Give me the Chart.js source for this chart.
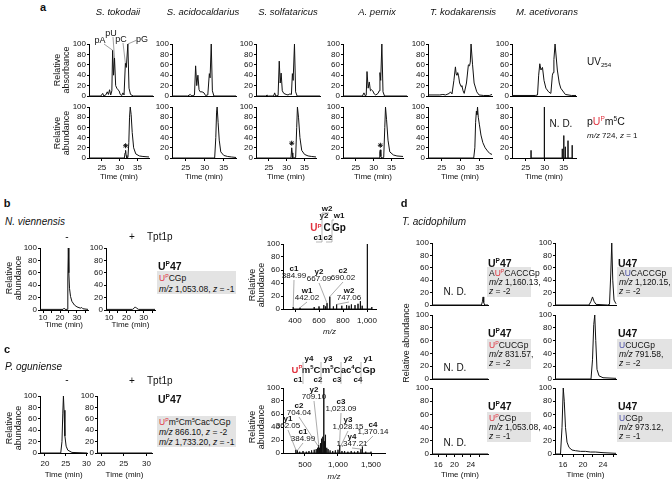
<!DOCTYPE html>
<html><head><meta charset="utf-8">
<script src="https://cdn.jsdelivr.net/npm/chart.js@4.4.1/dist/chart.umd.min.js"></script>
<style>
body{margin:0;background:#fff;}
#fig{position:relative;width:672px;height:482px;font-family:"Liberation Sans",Arial,Helvetica,sans-serif;color:#111;}
.t{position:absolute;white-space:nowrap;line-height:1;}
.c{transform:translate(-50%,-50%);}
.l{transform:translateY(-50%);}
.ry{transform:translate(-50%,-50%) rotate(-90deg);text-align:center;line-height:1.05;}
.red{color:#e0323e}
.blu{color:#4a4ea6}
.box{position:absolute;background:#e3e3e3;}
sup{font-size:62%;vertical-align:top;position:relative;top:-0.05em;line-height:1}
sub{font-size:62%;vertical-align:bottom;position:relative;top:0.15em;line-height:1}
canvas{position:absolute}
svg{position:absolute;left:0;top:0;pointer-events:none}
</style></head><body><div id="fig"></div>
<script>
// ================= DATA =================
const yTicks = [0,20,40,60,80,100];
// ---- panel a: species ----
const aTitles = ['S. tokodaii','S. acidocaldarius','S. solfataricus','A. pernix','T. kodakarensis','M. acetivorans'];
const aXTicks = [25,30,35];
// UV254 traces (time min, relative absorbance)
const stoUV_t = [21.4,24.5,25,25.3,25.8,26.2,26.5,26.8,27.1,27.4,27.6,27.85,28.1,28.4,28.7,29.0,29.3,29.6,30.0,30.3,30.6,30.95,31.2,31.6,31.9,32.3,33,38.2];
const stoUV_y = [0,0,5,0,2,8,3,12,2,10,88,40,73,20,15,12,10,3,1,6,2,63,55,100,15,3,0,0];
const saiUV_t = [21.4,25.5,26.2,26.6,27.3,27.6,27.9,28.2,28.5,28.8,29.3,29.8,30.2,30.8,31.2,31.4,31.7,32.0,32.4,38.2];
const saiUV_y = [0,0,3,0,2,58,20,40,12,8,8,6,1,2,43,35,100,10,0,0];
const ssoUV_t = [21.4,24.0,24.3,24.6,26.0,26.3,26.6,27.2,27.5,27.75,28.0,28.3,28.7,29.3,29.8,30.3,30.7,30.95,31.15,31.5,31.8,32.2,38.2];
const ssoUV_y = [0,0,2,0,0,6,0,1,67,25,44,10,5,3,2,4,3,43,30,100,8,0,0];
const apeUV_t = [21.4,26.5,26.9,27.3,27.5,27.7,28.0,28.3,28.6,28.9,29.2,29.6,30.0,30.6,30.9,31.1,31.3,31.6,31.9,32.3,38.2];
const apeUV_y = [0,0,6,0,2,47,15,27,10,12,10,4,2,5,10,45,30,100,8,0,0];
const tkoUV_t = [21.4,24.5,25.3,26,27.0,27.3,27.7,28.2,28.6,28.8,29.0,29.2,29.4,29.7,30.1,30.3,30.6,30.9,31.5,32.0,32.3,32.5,32.7,33.1,33.5,34.2,34.8,36,37.5,38.2];
const tkoUV_y = [2,2,3,2,5,8,4,30,56,42,40,45,40,25,18,20,10,5,25,60,58,65,100,60,25,8,2,1,1,3];
const macUV_t = [21.4,27.5,28.1,28.4,28.7,29.0,29.4,29.8,30.3,31.0,31.6,32.0,32.2,32.4,32.7,33.0,33.3,33.8,34.2,35.4,37,38.2];
const macUV_y = [1,1,2,40,62,50,55,30,15,8,5,40,45,70,100,75,50,25,15,3,1,1];
// pUpm5C extracted ion traces (m/z 724)
const stoMS_t = [21.4,31.3,31.5,31.65,31.8,32.0,32.3,32.55,32.75,32.95,33.2,33.5,33.9,34.5,35.5,36.5,38.2];
const stoMS_y = [0,0,10,15,5,0,1,30,80,100,85,50,20,8,4,3,2];
const saiMS_t = [21.4,32.6,32.9,33.1,33.25,33.5,33.8,34.2,35,36,37,38.2];
const saiMS_y = [0,0,40,90,100,70,35,12,5,3,2,1];
const ssoMS_t = [21.4,31.2,31.4,31.55,31.7,32.0,32.5,32.8,33.0,33.3,33.7,34.2,35,36,37,38.2];
const ssoMS_y = [0,0,20,10,0,0,1,60,100,80,40,15,7,4,3,2];
const apeMS_t = [21.4,31.5,31.7,31.85,32.0,32.3,32.8,33.1,33.3,33.6,34.0,34.5,35.5,36.5,38.2];
const apeMS_y = [0,0,12,16,3,0,1,60,100,75,35,12,6,4,3];
const tkoMS_t = [21.4,33.4,33.7,33.9,34.1,34.25,34.4,34.6,34.9,35.3,35.8,36.4,37,37.6,38.2];
const tkoMS_y = [0,0,20,70,92,85,100,80,65,45,30,20,14,9,7];
const macMS_t = [26.4,29.9,34.6,35.0,35.4,36.1,37.2];
const macMS_y = [15,100,18,44,22,34,25];
// asterisk (side peak) positions
const starT = [31.65, null, 31.4, 31.85, null, null];
const starY = [15, null, 20, 16, null, null];

// ---- panel b: N. viennensis ----
const bXTicks = [10,15,20,25,30,35];
const bMinusT = [8.2,21.8,22.4,23,24.3,24.6,24.9,25.2,25.6,26.2,27,28.5,30,32,32.8,33.5,36.5];
const bMinusY = [1,1,3,1,1,50,100,60,35,22,14,8,5,3,4,2,1];
const bPlusT = [8.2,23.5,24.5,25.1,25.8,27,36.5];
const bPlusY = [1,1,3,5,3,1,1];
const bSpecMz = [385,442,560,600,640,655,667,690,720,747,790,830,850,870,900,925,945,960,1003,1040];
const bSpecH  = [3,2,3,4,6,4,9,19,4,7,5,6,5,7,6,8,12,5,100,3];
const bSpecTicks = [400,600,800,1000];
const bIonName = ['c1','w1','y2','c2','w2'];
const bIonMz = [384.99,442.02,667.09,690.02,747.06];

// ---- panel c: P. oguniense ----
const cXTicks = [20,25,30];
const cMinusT = [18.8,23.8,24.1,24.3,24.45,24.6,24.8,25.1,25.5,26.5,30.2];
const cMinusY = [0,0,20,70,100,75,30,12,5,1,0];
const cPlusT = [19.1,31.2];
const cPlusY = [0,0];
const cSpecMz = [362,385,420,470,520,560,600,640,670,690,704,709,720,735,745,755,770,785,795,805,815,830,850,880,920,960,1000,1023,1028,1060,1100,1150,1200,1250,1300,1347,1370,1420,1500];
const cSpecH  = [5,4,2,3,2,3,4,5,6,8,10,12,8,15,22,18,25,100,18,28,10,8,6,4,3,4,5,12,8,3,3,2,3,2,3,6,10,2,2];
const cSpecTicks = [500,1000,1500];
const cIonName = ['y1','c2','c1','y2','c3','y3','y4','c4'];
const cIonMz = [362.05,704.04,384.99,709.10,1023.09,1028.15,1347.21,1370.14];

// ---- panel d: T. acidophilum ----
const dXTicks = [16,18,20,22,24,26];
const dL1_t = [14.5,26.6,26.85,27.0,27.15,27.4,28.2];
const dL1_y = [0,0,6,13,4,0,0];
const dL2_t = [14.5,28.2];
const dL2_y = [0,0];
const dL3_t = [14.5,28.2];
const dL3_y = [0,0];
const dR1_t = [14.4,21.2,21.6,21.9,22.2,22.6,24.9,25.3,25.55,25.75,25.95,26.2,26.6];
const dR1_y = [0,0,6,13,6,1,0,1,50,100,40,8,2];
const dR2_t = [14.4,21.6,21.9,22.15,22.35,22.55,22.8,23.2,24,26.6];
const dR2_y = [0,0,30,85,100,60,15,5,2,1];
const dR3_t = [14.4,15.5,15.8,16.05,16.25,16.5,16.8,17.2,17.8,18.5,19.5,20.5,21.5,22.5,24,26.6];
const dR3_y = [0,0,40,100,80,40,18,10,6,5,4,4,3,3,2,1];
const dPeakT = [25.75,22.35,16.05];

// ================= DRAWING =================
const FF = "'Liberation Sans', Arial, Helvetica, sans-serif";
const fig = document.getElementById('fig');
const INK = '#111';
const zip = (t,y)=>t.map((v,i)=>({x:v,y:y[i]}));
const sticks = (m,h)=>{const o=[];m.forEach((v,i)=>{o.push({x:v,y:0},{x:v,y:h[i]},{x:v,y:0});});return o;};
const line = d=>({data:d,borderColor:INK,borderWidth:1,pointRadius:0,tension:0,clip:false});
const fmt = v=>Number(v).toLocaleString('en-US');
const allCharts=[];

function mk(o){
  const YW=o.yw??22, TOP=8, RIGHT=o.right??6, XH=Math.max(o.xh??2,6);
  const W=(o.x1-o.x0)+YW+RIGHT, H=(o.y0-o.y100)+TOP+XH;
  const cv=document.createElement('canvas');
  cv.width=W;cv.height=H;cv.style.width=W+'px';cv.style.height=H+'px';
  const left=o.x0-YW, top=o.y100-TOP;
  cv.style.left=left+'px';cv.style.top=top+'px';
  fig.appendChild(cv);
  const ctx=cv.getContext('2d',{willReadFrequently:true});
  const lab=o.xlab||null;
  const ch=new Chart(ctx,{type:'line',data:{datasets:o.ds},options:{
    responsive:false,animation:false,devicePixelRatio:1,events:[],
    layout:{padding:{top:TOP,right:RIGHT,left:0,bottom:0}},
    plugins:{legend:{display:false},tooltip:{enabled:false}},
    scales:{
      x:{type:'linear',min:o.xmin,max:o.xmax,
        afterFit:s=>{s.height=XH;},
        afterBuildTicks:s=>{s.ticks=(o.xt||[]).map(v=>({value:v}));},
        border:{color:'#000',width:1},
        grid:{display:true,drawOnChartArea:false,drawTicks:!!lab,tickLength:3,color:'#000'},
        ticks:{display:!!lab,autoSkip:false,maxRotation:0,padding:o.tp??2,color:INK,font:{size:8,family:FF},
          callback:v=>lab&&lab.includes(v)?fmt(v):''},
        title:{display:!!o.xtitle,text:o.xtitle||'',padding:0,color:INK,font:{size:8,family:FF,style:o.xtitleIt?'italic':'normal'}}
      },
      y:{type:'linear',position:'left',min:0,max:100,
        afterFit:s=>{s.width=YW;},
        afterBuildTicks:s=>{s.ticks=yTicks.map(v=>({value:v}));},
        border:{color:'#000',width:1},
        grid:{display:true,drawOnChartArea:false,drawTicks:true,tickLength:2,color:'#000'},
        ticks:{display:true,autoSkip:false,padding:1,color:INK,font:{size:8,family:FF},callback:v=>String(v)}
      }
    }
  }});
  allCharts.push({ch,ctx,W,H});
  return {ch,left,top};
}
function P(info,x,y){return [info.left+info.ch.scales.x.getPixelForValue(x), info.top+info.ch.scales.y.getPixelForValue(y)];}
// text and boxes are queued and added after every chart has been drawn
const queue=[];
function T(x,y,html,s,cls,extra){queue.push(()=>{const d=document.createElement('div');d.className='t '+(cls||'c');d.style.left=x+'px';d.style.top=y+'px';d.style.fontSize=(s||9)+'px';if(extra)Object.assign(d.style,extra);d.innerHTML=html;fig.appendChild(d);});}
function B(x,y,w,h){queue.push(()=>{const d=document.createElement('div');d.className='box';Object.assign(d.style,{left:x+'px',top:y+'px',width:w+'px',height:h+'px'});fig.appendChild(d);});}
const lines=[];
const leaders=[];
function L(x1,y1,x2,y2,c){lines.push(`<line x1="${x1}" y1="${y1}" x2="${x2}" y2="${y2}" stroke="${c||'#888'}" stroke-width="0.7"/>`);}
const BOLD={fontWeight:'bold'}, IT={fontStyle:'italic'};
const UP='U<sup>P</sup>';

// ===== create all charts first =====
const A_X0=[89,172,256,343,428,512];
const uvT=[stoUV_t,saiUV_t,ssoUV_t,apeUV_t,tkoUV_t,macUV_t], uvY=[stoUV_y,saiUV_y,ssoUV_y,apeUV_y,tkoUV_y,macUV_y];
const msT=[stoMS_t,saiMS_t,ssoMS_t,apeMS_t,tkoMS_t], msY=[stoMS_y,saiMS_y,ssoMS_y,apeMS_y,tkoMS_y];
let aUV0=null;
A_X0.forEach((x0,i)=>{
  const u=mk({x0,x1:x0+64,y100:44,y0:96,yw:19,right:1,xmin:21.4,xmax:38.2,xt:[...aXTicks],ds:[line(zip(uvT[i],uvY[i]))]});
  if(i===0)aUV0=u;
  const ds=[line(i<5?zip(msT[i],msY[i]):sticks(macMS_t,macMS_y))];
  if(starT[i]!=null) ds.push({data:[{x:starT[i],y:starY[i]+9}],showLine:false,pointStyle:'star',pointRadius:2.5,borderColor:INK,borderWidth:1,clip:false});
  mk({x0,x1:x0+64,y100:107,y0:158,yw:19,right:1,xmin:21.4,xmax:38.2,xt:[...aXTicks],xlab:[...aXTicks],tp:2,xh:24,xtitle:'Time (min)',ds});
});
mk({x0:40,x1:88,y100:248,y0:310,xmin:8.2,xmax:36.5,xt:bXTicks,xlab:[10,20,30],tp:0,xh:20,xtitle:'Time (min)',ds:[line(zip(bMinusT,bMinusY))]});
mk({x0:106,x1:155,y100:248,y0:310,xmin:8.2,xmax:36.5,xt:bXTicks,xlab:[10,20,30],tp:0,xh:20,xtitle:'Time (min)',ds:[line(zip(bPlusT,bPlusY))]});
const sb=mk({x0:283,x1:376,y100:244,y0:309,xmin:300,xmax:1075,xt:bSpecTicks,xlab:bSpecTicks,tp:4,xh:28,xtitle:'m/z',xtitleIt:true,ds:[line(sticks(bSpecMz,bSpecH))]});
mk({x0:40,x1:88,y100:396,y0:453,xmin:18.8,xmax:30.2,xt:cXTicks,xlab:cXTicks,tp:3,xh:27,xtitle:'Time (min)',ds:[line(zip(cMinusT,cMinusY))]});
mk({x0:97,x1:152,y100:396,y0:453,xmin:19.1,xmax:31.2,xt:cXTicks,xlab:cXTicks,tp:3,xh:27,xtitle:'Time (min)',ds:[line(zip(cPlusT,cPlusY))]});
const sc=mk({x0:283,x1:385,y100:388,y0:453,xmin:167,xmax:1712,xt:cSpecTicks,xlab:cSpecTicks,tp:4,xh:29,xtitle:'m/z',xtitleIt:true,ds:[line(sticks(cSpecMz,cSpecH))]});
const dRows=[[243,305],[315,379],[388,454]];
const dLT=[dL1_t,dL2_t,dL3_t], dLY=[dL1_y,dL2_y,dL3_y], dRT=[dR1_t,dR2_t,dR3_t], dRY=[dR1_y,dR2_y,dR3_y];
dRows.forEach((r,i)=>{
  const last=i===2;
  const base={y100:r[0],y0:r[1],xt:dXTicks,xlab:last?[16,20,24]:null,tp:3,xh:last?26:2,xtitle:last?'Time (min)':null};
  mk(Object.assign({x0:432,x1:488,xmin:14.5,xmax:28.2,ds:[line(zip(dLT[i],dLY[i]))]},base));
  mk(Object.assign({x0:555,x1:616,xmin:14.4,xmax:26.6,ds:[line(zip(dRT[i],dRY[i])),
    {data:[{x:dPeakT[i],y:110}],showLine:false,pointStyle:'triangle',pointRotation:180,pointRadius:3.2,backgroundColor:INK,borderColor:INK,borderWidth:0,clip:false}]},base));
});
allCharts.forEach(c=>{c.ch.update('none');c.ctx.getImageData(0,0,c.W,c.H);});

// ===== panel a text =====
T(43,7,'a',11,'c',BOLD);
const aTX=[118,203,288,377,463,547];
aTitles.forEach((s,i)=>T(aTX[i],12,s,9.5,'c',IT));
T(62,70,'Relative<br>absorbance',9,'ry');
T(62,133,'Relative<br>abundance',9,'ry');
const nucName=['pA','pU','pC','pG'], nucT=[27.6,28.1,30.95,31.6], nucY=[88,73,63,100];
const nucLX=[100,111,121,142], nucLY=[40,33,39,39], nucSX=[104,113,123,137], nucSY=[44,37,43,40];
nucName.forEach((n,i)=>{T(nucLX[i],nucLY[i],n,9);const p=P(aUV0,nucT[i],nucY[i]);L(nucSX[i],nucSY[i],p[0],p[1],'#777');});
T(587,62,'UV<sub>254</sub>',10,'l');
T(587,121,'p<span class="red">'+UP+'</span>m<sup>5</sup>C',10.5,'l');
T(587,136,'<i>m/z</i> 724, <i>z</i> = 1',8,'l');
T(561,124,'N. D.',10);

// ===== panel b text =====
T(7,203,'b',11,'c',BOLD);
T(5,222,'N. viennensis',10,'l',IT);
T(67,237,'-',10);T(132,237,'+',10);T(147,237,'Tpt1p',10,'l');
T(14,278,'Relative<br>abundance',9,'ry');
T(158,266,UP+'47',10.5,'l',BOLD);
B(157,271,79,23);
T(159,278,'<span class="red">'+UP+'</span>CGp',8.5,'l');
T(159,289,'<i>m/z</i> 1,053.08, <i>z</i> = -1',8.5,'l');
T(257,285,'Relative<br>abundance',9,'ry');
const bLX=[294,307,319,343,349], bLY=[269,291,272,271,291];
bIonName.forEach((n,i)=>{
  T(bLX[i],bLY[i],n,8,'c',BOLD);T(bLX[i],bLY[i]+7,bIonMz[i].toFixed(2),8);
  const k=bSpecMz.reduce((a,v,j)=>Math.abs(v-bIonMz[i])<Math.abs(bSpecMz[a]-bIonMz[i])?j:a,0);
  const p=P(sb,bSpecMz[k],bSpecH[k]);L(bLX[i],bLY[i]+11,p[0],p[1]);
});
T(327,209,'w2',8,'c',BOLD);T(324,216,'y2',8,'c',BOLD);T(339,216,'w1',8,'c',BOLD);
T(316,228,'<span class="red">'+UP+'</span>',10,'c',BOLD);T(327,228,'C',10,'c',BOLD);T(339,228,'Gp',10,'c',BOLD);
T(318,238,'c1',8,'c',BOLD);T(328,238,'c2',8,'c',BOLD);
L(322,213,322,242,'#999');L(322,213,329,213,'#999');L(332,220,332,242,'#999');L(332,220,334,220,'#999');
L(322,242,316,242,'#999');L(332,242,326,242,'#999');

// ===== panel c text =====
T(7,349,'c',11,'c',BOLD);
T(5,367,'P. oguniense',10,'l',IT);
T(67,380,'-',10);T(132,381,'+',10);T(147,381,'Tpt1p',10,'l');
T(14,428,'Relative<br>abundance',9,'ry');
T(158,399,UP+'47',10.5,'l',BOLD);
B(157,416,79,31);
T(159,422,'<span class="red">'+UP+'</span>m<sup>5</sup>Cm<sup>5</sup>Cac<sup>4</sup>CGp',8.5,'l');
T(159,432,'<i>m/z</i> 866.10, <i>z</i> = -2',8.5,'l');
T(159,442,'<i>m/z</i> 1,733.20, <i>z</i> = -1',8.5,'l');
T(257,427,'Relative<br>abundance',9,'ry');
const cLX=[288,299,303,314,341,348,352,373], cLY=[419,406,432,390,402,420,437,425];
cIonName.forEach((n,i)=>{
  T(cLX[i],cLY[i],n,8,'c',BOLD);T(cLX[i],cLY[i]+7,cIonMz[i].toLocaleString('en-US',{minimumFractionDigits:2}),8);
  const k=cSpecMz.reduce((a,v,j)=>Math.abs(v-cIonMz[i])<Math.abs(cSpecMz[a]-cIonMz[i])?j:a,0);
  const p=P(sc,cSpecMz[k],cSpecH[k]);L(cLX[i],cLY[i]+11,p[0],p[1]);
});
const cTopN=['y4','y3','y2','y1'], cTopX=[309,328,348,368];
cTopN.forEach((n,i)=>T(cTopX[i],359,n,8,'c',BOLD));
T(297,370,'<span class="red">'+UP+'</span>',9.5,'c',BOLD);
T(311,370,'m<sup>5</sup>C',9.5,'c',BOLD);T(331,370,'m<sup>5</sup>C',9.5,'c',BOLD);
T(351,370,'ac<sup>4</sup>C',9.5,'c',BOLD);T(369,370,'Gp',9.5,'c',BOLD);
const cBotN=['c1','c2','c3','c4'], cBotX=[298,318,337,358];
cBotN.forEach((n,i)=>T(cBotX[i],380,n,8,'c',BOLD));
[303,321,341,361].forEach(x=>{L(x,362,x,384,'#999');});

// ===== panel d text =====
T(404,203,'d',11,'c',BOLD);
T(402,222,'T. acidophilum',10,'l',IT);
T(407,343,'Relative abundance',9,'ry');
const dTitleY=[263,333,406], dBoxY=[267,339,412], dBoxH=[30,30,30];
const dSeqL=['A<span class="red">'+UP+'</span>CACCGp','<span class="red">'+UP+'</span>CUCGp','<span class="red">'+UP+'</span>CGp'];
const dSeqR=['A<span class="blu">U</span>CACCGp','<span class="blu">U</span>CUCGp','<span class="blu">U</span>CGp'];
const dMzL=['1,160.13','831.57','1,053.08'], dMzR=['1,120.15','791.58','973.12'], dZ=['-2','-2','-1'];
const dND=[292,368,443];
dTitleY.forEach((y,i)=>{
  T(488,y,UP+'47',10.5,'l',BOLD);
  B(487,dBoxY[i],44,dBoxH[i]);
  T(489,dBoxY[i]+6,dSeqL[i],8.5,'l');
  T(489,dBoxY[i]+15,'<i>m/z</i> '+dMzL[i]+',',8.5,'l');
  T(489,dBoxY[i]+24,'<i>z</i> = '+dZ[i],8.5,'l');
  T(618,y,'U47',10.5,'l',BOLD);
  B(617,dBoxY[i],56,dBoxH[i]);
  T(619,dBoxY[i]+6,dSeqR[i],8.5,'l');
  T(619,dBoxY[i]+15,'<i>m/z</i> '+dMzR[i]+',',8.5,'l');
  T(619,dBoxY[i]+24,'<i>z</i> = '+dZ[i],8.5,'l');
  T(455,dND[i],'N. D.',10);
});

// flush queued text/boxes, then leader lines
queue.forEach(f=>f());
const svg=document.createElementNS('http://www.w3.org/2000/svg','svg');
svg.setAttribute('width','672');svg.setAttribute('height','482');
svg.innerHTML=lines.join('');
fig.appendChild(svg);
</script>
</body></html>
